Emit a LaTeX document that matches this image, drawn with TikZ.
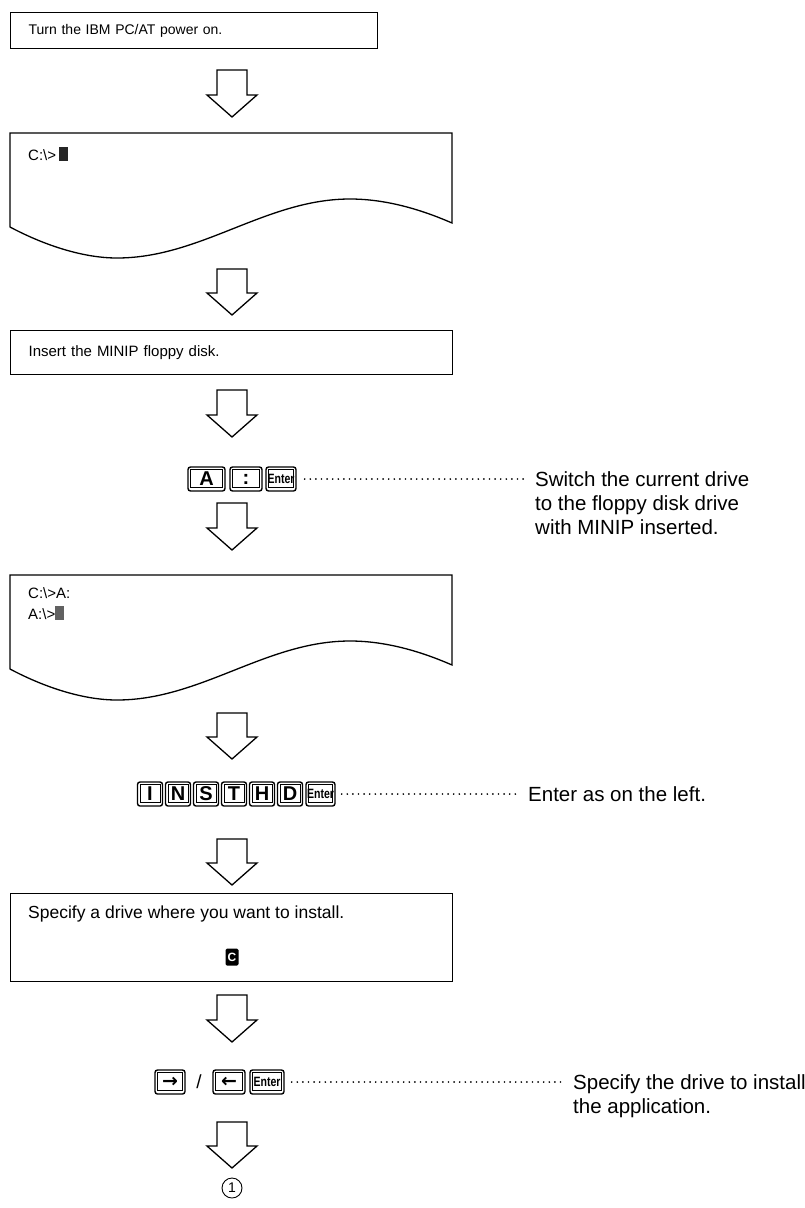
\documentclass[tikz,border=0pt]{standalone}
\usepackage{fontspec}
\setmainfont{Liberation Sans}
\newfontfamily\symfont{DejaVu Sans}
\usepackage{graphicx}
\usetikzlibrary{calc}

% screen cursor block
\newcommand\cursorblock[1]{\textcolor{#1}{\rule[-1pt]{9pt}{14pt}}}
% condensed label of the Enter key
\newcommand\enterlabel{\scalebox{0.78}[1]{\fontsize{13.5}{13.5}\selectfont\bfseries Enter}}
% hollow block arrow from #1 (tail) down to #2 (tip)
\newcommand\hollowarrow[2]{%
  \draw[harrow] let \p1=(#1), \p2=(#2) in
    (\x1-15pt,\y1) -- (\x1+15pt,\y1) -- (\x1+15pt,\y2+22pt) -- (\x1+25pt,\y2+22pt)
    -- (\x1,\y2) -- (\x1-25pt,\y2+22pt) -- (\x1-15pt,\y2+22pt) -- cycle;}

\tikzset{
  frame/.style={draw, line width=1.3pt, line join=miter},
  stepbox/.style={frame, anchor=north west, inner xsep=18pt, inner ysep=0pt, align=left},
  boxtext/.style={anchor=base west, inner sep=0pt, font=\fontsize{15}{18}\selectfont},
  note/.style={anchor=base west, inner sep=0pt, font=\fontsize{20.5}{24}\selectfont},
  key/.style={draw, line width=1.4pt, rounded corners=2.5pt, inner sep=0pt,
    minimum height=24pt, font=\fontsize{20}{20}\selectfont\bfseries,
    path picture={\draw[line width=0.6pt, sharp corners]
      ([shift={(2.6pt,-2.4pt)}]path picture bounding box.north west) rectangle
      ([shift={(-2.6pt,4pt)}]path picture bounding box.south east);}},
  arrowkey/.style={key, font=\symfont\fontsize{19}{19}\selectfont\bfseries},
  leader/.style={line width=1.9pt, line cap=round, dash pattern=on 0pt off 5.6pt},
  harrow/.style={draw, line width=1.3pt, line join=miter},
  pics/screen/.style={code={
    \draw[frame] (0,0) -- (442,0) -- (442,-90)
      .. controls (410,-76) and (375,-66) .. (340,-66)
      .. controls (256,-66) and (191,-125) .. (107,-125)
      .. controls (70,-125) and (30,-110) .. (0,-94) -- cycle;
    \coordinate (-top) at (221,0);
  }},
}

\begin{document}
\begin{tikzpicture}[x=1pt, y=1pt]
\useasboundingbox (0,0) rectangle (805,-1208);
\fill[white] (0,0) rectangle (805,-1208);

% ---- step 1: power on
\node[stepbox, text width=331pt, minimum height=36pt, font=\fontsize{14}{17}\selectfont]
  (power) at (10,-12) {Turn the IBM PC/AT power on.};

\coordinate (a1s) at (232,-70);
\coordinate (a1e) at (232,-117);
\hollowarrow{a1s}{a1e}

% ---- DOS prompt on drive C
\pic (scrC) at (10,-133) {screen};
\node[boxtext] (promptC) at (28,-160) {C:\textbackslash>\,\cursorblock{black!85}};

\coordinate (a2s) at (232,-269);
\coordinate (a2e) at (232,-315);
\hollowarrow{a2s}{a2e}

% ---- insert the floppy disk
\node[stepbox, text width=406pt, minimum height=44pt, font=\fontsize{15}{18}\selectfont]
  (insert) at (10,-330) {Insert the MINIP floppy disk.};

\coordinate (a3s) at (232,-390);
\coordinate (a3e) at (232,-437);
\hollowarrow{a3s}{a3e}

% ---- A : Enter
\node[key, minimum width=37pt] (kA) at (206.5,-479) {A};
\node[key, minimum width=32pt] (kColon) at (246,-479) {:};
\node[key, minimum width=30pt] (kEnter1) at (281,-479) {\enterlabel};
\node[note] (n1a) at (535,-486) {Switch the current drive};
\node[note] (n1b) at (535,-510) {to the floppy disk drive};
\node[note] (n1c) at (535,-534) {with MINIP inserted.};
\draw[leader] ([xshift=8pt]kEnter1.east) -- ([xshift=-10pt]n1a.west |- kEnter1.east);

\coordinate (a4s) at (232,-503);
\coordinate (a4e) at (232,-550);
\hollowarrow{a4s}{a4e}

% ---- DOS prompt on drive A
\pic (scrA) at (10,-575) {screen};
\node[boxtext] (promptCA) at (28,-598) {C:\textbackslash>A:};
\node[boxtext] (promptA) at (28,-619) {A:\textbackslash>\cursorblock{black!62}};

\coordinate (a5s) at (232,-713);
\coordinate (a5e) at (232,-759);
\hollowarrow{a5s}{a5e}

% ---- INSTHD Enter
\node[key, minimum width=25pt] (kI) at (150,-794) {I};
\node[key, minimum width=25pt] (kN) at (178,-794) {N};
\node[key, minimum width=25pt] (kS) at (206,-794) {S};
\node[key, minimum width=25pt] (kT) at (234,-794) {T};
\node[key, minimum width=25pt] (kH) at (262,-794) {H};
\node[key, minimum width=25pt] (kD) at (290,-794) {D};
\node[key, minimum width=29pt] (kEnter2) at (320.5,-794) {\enterlabel};
\node[note] (n2) at (528,-801) {Enter as on the left.};
\draw[leader] ([xshift=6pt]kEnter2.east) -- ([xshift=-9pt]n2.west |- kEnter2.east);

\coordinate (a6s) at (232,-839);
\coordinate (a6e) at (232,-885);
\hollowarrow{a6s}{a6e}

% ---- choose the target drive
\node[frame, anchor=north west, minimum width=442pt, minimum height=88pt] (drive) at (10,-893) {};
\node[anchor=base west, inner sep=0pt, font=\fontsize{17.5}{20}\selectfont] (drivetxt) at (28,-918)
  {Specify a drive where you want to install.};
\node[fill=black, rounded corners=1.5pt, minimum width=13pt, minimum height=17pt, inner sep=0pt,
  text=white, font=\fontsize{12}{12}\selectfont\bfseries] (driveC) at (232,-957) {C};

\coordinate (a7s) at (232,-995);
\coordinate (a7e) at (232,-1042);
\hollowarrow{a7s}{a7e}

% ---- arrow keys / Enter
\node[arrowkey, minimum width=30pt] (kRight) at (170,-1082) {→};
\node[inner sep=0pt, font=\fontsize{19}{19}\selectfont] (slash) at (199,-1082) {/};
\node[arrowkey, minimum width=32pt] (kLeft) at (229,-1082) {←};
\node[key, minimum width=34pt] (kEnter3) at (267,-1082) {\enterlabel};
\node[note] (n3a) at (573,-1089) {Specify the drive to install};
\node[note] (n3b) at (573,-1113) {the application.};
\draw[leader] ([xshift=7pt]kEnter3.east) -- ([xshift=-9pt]n3a.west |- kEnter3.east);

\coordinate (a8s) at (232,-1122);
\coordinate (a8e) at (232,-1168);
\hollowarrow{a8s}{a8e}

% ---- continuation mark
\node[draw, circle, line width=0.9pt, minimum size=20pt, inner sep=0pt,
  font=\fontsize{14}{14}\selectfont] (cont) at (232,-1188) {1};
\end{tikzpicture}
\end{document}
